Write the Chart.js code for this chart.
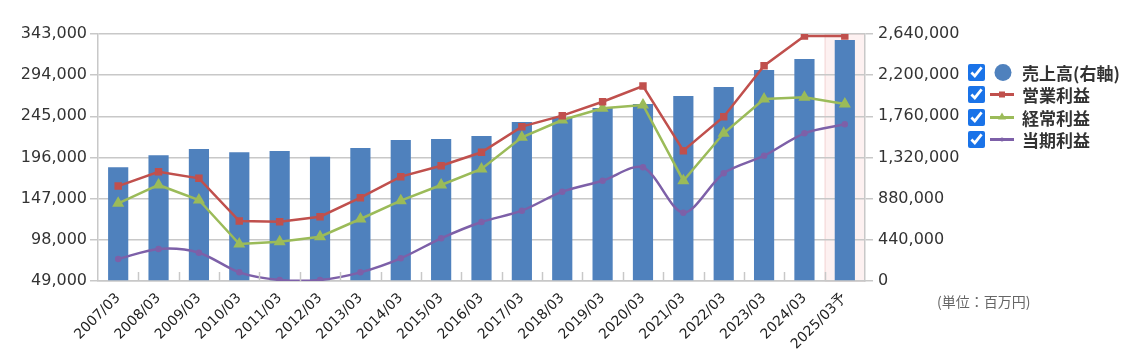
<!DOCTYPE html>
<html>
<head>
<meta charset="utf-8">
<script src="https://cdn.jsdelivr.net/npm/chart.js@4/dist/chart.umd.min.js"></script>
<style>
  body { margin: 0; background: #fff; }
  #wrap { position: relative; width: 1131px; height: 364px; }
  #legend { position: absolute; left: 966px; top: 61px; font-family: "Noto Sans CJK JP", sans-serif; font-weight: bold; font-size: 17px; color: #333; }
  #legend label { display: flex; align-items: center; height: 22.5px; cursor: pointer; white-space: nowrap; }
  #legend input { width: 17px; height: 17px; margin: 0 4px 0 2px; accent-color: #1a73e8; }
  #legend .ico { width: 26px; height: 17px; margin-right: 7px; }
  #unit { position: absolute; left: 937px; top: 291px; font-family: "Noto Sans CJK JP", sans-serif; font-size: 14px; color: #666; }
</style>
</head>
<body>
<div id="wrap">
  <canvas id="salesChart" width="1131" height="364"></canvas>
  <div id="legend"></div>
  <div id="unit">(単位：百万円)</div>
</div>
<script>
// 決算期
const periods = ['2007/03', '2008/03', '2009/03', '2010/03', '2011/03', '2012/03', '2013/03', '2014/03', '2015/03', '2016/03',
  '2017/03', '2018/03', '2019/03', '2020/03', '2021/03', '2022/03', '2023/03', '2024/03', '2025/03予'];

// 売上高 (右軸)
const sales = [1215000, 1343000, 1411000, 1376000, 1389000, 1329000, 1421000, 1507000, 1518000, 1550000,
  1699000, 1742000, 1849000, 1892000, 1977000, 2073000, 2255000, 2373000, 2576000];
// 営業利益
const operatingProfit = [162000, 179100, 171200, 120400, 119500, 125500, 148200, 173200, 186200, 202200,
  232700, 245800, 262400, 281100, 204100, 244600, 305300, 340600, 340600];
// 経常利益
const ordinaryProfit = [141500, 163300, 145400, 93000, 95800, 101700, 122800, 144600, 163300, 182300,
  220000, 240600, 254600, 258500, 168400, 224800, 265600, 267700, 259700];
// 当期利益
const netProfit = [75200, 87100, 82700, 59300, 50200, 50200, 59300, 76000, 99800, 119200,
  132700, 155300, 168400, 184300, 130300, 177200, 198100, 224800, 235500];

const leftTicks = [49000, 98000, 147000, 196000, 245000, 294000, 343000];
const rightTicks = [0, 440000, 880000, 1320000, 1760000, 2200000, 2640000];

const fmt = v => v.toLocaleString('en-US');

// 予想期の背景と、x軸の内向き目盛り
const extras = {
  id: 'extras',
  beforeDraw(chart) {
    const { ctx, chartArea, scales: { x } } = chart;
    const w = x.getPixelForValue(1) - x.getPixelForValue(0);
    const cx = x.getPixelForValue(periods.length - 1);
    ctx.save();
    ctx.fillStyle = '#fdf1f1';
    ctx.fillRect(cx - w / 2, chartArea.top, w, chartArea.bottom - chartArea.top);
    ctx.strokeStyle = '#f4d6d6';
    ctx.lineWidth = 1;
    ctx.strokeRect(cx - w / 2 + 0.5, chartArea.top, w - 1, chartArea.bottom - chartArea.top);
    ctx.restore();
  },
  afterDraw(chart) {
    const { ctx, chartArea, scales: { x } } = chart;
    const w = x.getPixelForValue(1) - x.getPixelForValue(0);
    ctx.save();
    ctx.strokeStyle = '#c8c8c8';
    ctx.lineWidth = 1.5;
    for (let i = 1; i < periods.length; i++) {
      const px = Math.round(x.getPixelForValue(i) - w / 2) + 0.5;
      ctx.beginPath();
      ctx.moveTo(px, chartArea.bottom);
      ctx.lineTo(px, chartArea.bottom - 9);
      ctx.stroke();
    }
    ctx.restore();
  }
};

const ctx = document.getElementById('salesChart').getContext('2d');
const chart = new Chart(ctx, {
  type: 'bar',
  data: {
    labels: periods,
    datasets: [
      {
        label: '売上高(右軸)',
        data: sales,
        yAxisID: 'y1',
        backgroundColor: '#4f81bd',
        barPercentage: 0.5,
        categoryPercentage: 1,
        order: 10
      },
      {
        type: 'line',
        label: '営業利益',
        data: operatingProfit,
        yAxisID: 'y',
        borderColor: '#c0504d',
        backgroundColor: '#c0504d',
        borderWidth: 2.5,
        pointStyle: 'rect',
        pointRadius: 3.5,
        order: 1
      },
      {
        type: 'line',
        label: '経常利益',
        data: ordinaryProfit,
        yAxisID: 'y',
        borderColor: '#9bbb59',
        backgroundColor: '#9bbb59',
        borderWidth: 2.5,
        pointStyle: 'triangle',
        pointRadius: 4.5,
        order: 2
      },
      {
        type: 'line',
        label: '当期利益',
        data: netProfit,
        yAxisID: 'y',
        borderColor: '#7d60a8',
        backgroundColor: '#7d60a8',
        borderWidth: 2.5,
        pointRadius: 2,
        tension: 0.3,
        order: 3
      }
    ]
  },
  options: {
    responsive: false,
    animation: false,
    layout: { padding: { top: 34, right: 166, left: 0, bottom: 0 } },
    plugins: { legend: { display: false }, tooltip: { enabled: true } },
    scales: {
      x: {
        offset: true,
        grid: { display: false, drawTicks: false },
        border: { display: true, color: '#c8c8c8', width: 1.5 },
        ticks: {
          autoSkip: false,
          maxRotation: 45,
          minRotation: 45,
          padding: 9,
          color: '#222',
          font: { family: 'DejaVu Sans', size: 14 }
        },
        afterFit: s => { s.height = 83; }
      },
      y: {
        position: 'left',
        min: 49000,
        max: 343000,
        afterBuildTicks: s => { s.ticks = leftTicks.map(v => ({ value: v })); },
        grid: { color: '#c8c8c8', lineWidth: 1.5, tickLength: 8 },
        border: { color: '#c8c8c8', width: 1.5 },
        ticks: {
          padding: 3,
          color: '#333',
          font: { family: 'DejaVu Sans', size: 16 },
          callback: v => fmt(v)
        },
        afterFit: s => { s.width = 98; }
      },
      y1: {
        position: 'right',
        min: 0,
        max: 2640000,
        afterBuildTicks: s => { s.ticks = rightTicks.map(v => ({ value: v })); },
        grid: { drawOnChartArea: false, color: '#c8c8c8', lineWidth: 1.5, tickLength: 8 },
        border: { color: '#c8c8c8', width: 1.5 },
        ticks: {
          padding: 5,
          color: '#333',
          font: { family: 'DejaVu Sans', size: 16 },
          callback: v => fmt(v)
        },
        afterFit: s => { s.width = 100; }
      }
    }
  },
  plugins: [extras]
});

// 凡例 (チェックで表示切替)
const icons = [
  '<svg class="ico" viewBox="0 0 26 17"><circle cx="14" cy="8.5" r="8.5" fill="#4f81bd"/></svg>',
  '<svg class="ico" viewBox="0 0 26 17"><line x1="1" y1="8.5" x2="25" y2="8.5" stroke="#c0504d" stroke-width="3"/><rect x="10" y="5.5" width="6" height="6" fill="#c0504d"/></svg>',
  '<svg class="ico" viewBox="0 0 26 17"><line x1="1" y1="8.5" x2="25" y2="8.5" stroke="#9bbb59" stroke-width="3"/><polygon points="13,3.5 17,10.5 9,10.5" fill="#9bbb59"/></svg>',
  '<svg class="ico" viewBox="0 0 26 17"><line x1="1" y1="8.5" x2="25" y2="8.5" stroke="#7d60a8" stroke-width="3"/><circle cx="13" cy="8.5" r="2" fill="#7d60a8"/></svg>'
];
const legend = document.getElementById('legend');
chart.data.datasets.forEach((ds, i) => {
  const row = document.createElement('label');
  row.innerHTML = '<input type="checkbox" checked>' + icons[i] + '<span>' + ds.label + '</span>';
  row.querySelector('input').addEventListener('change', e => {
    chart.setDatasetVisibility(i, e.target.checked);
    chart.update();
  });
  legend.appendChild(row);
});
</script>
</body>
</html>
